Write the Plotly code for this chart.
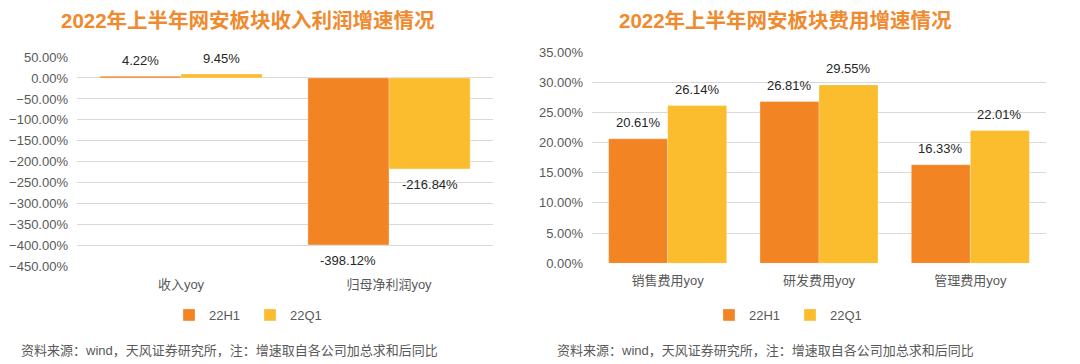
import plotly.graph_objects as go

# ---------------- data ----------------
series_names = ["22H1", "22Q1"]

income_cats = ["收入yoy", "归母净利润yoy"]
income_h1 = [4.22, -398.12]
income_q1 = [9.45, -216.84]

expense_cats = ["销售费用yoy", "研发费用yoy", "管理费用yoy"]
expense_h1 = [20.61, 26.81, 16.33]
expense_q1 = [26.14, 29.55, 22.01]

left_title = "2022年上半年网安板块收入利润增速情况"
right_title = "2022年上半年网安板块费用增速情况"
source_note = "资料来源：wind，天风证券研究所，注：增速取自各公司加总求和后同比"

# ---------------- style ----------------
W, H = 1080, 364
ORANGE = "#F28424"
YELLOW = "#FBBD2E"
TITLE_C = "#F08A2E"
TICK_C = "#595959"
LABEL_C = "#262626"
GRID_C = "#D9D9D9"
FONT = "Liberation Sans, Arial, Noto Sans CJK SC, sans-serif"
BARGAP = 0.22

left_dom_x = [77 / W, 493 / W]
right_dom_x = [592 / W, 1046 / W]
left_dom_y = [1 - 266.7 / H, 1 - 57 / H]
right_dom_y = [1 - 263.3 / H, 1 - 52 / H]

fig = go.Figure()

colors = [ORANGE, YELLOW]
bar_line = dict(color="rgba(255,255,255,0.6)", width=0.5)
for name, vals, col in zip(series_names, [income_h1, income_q1], colors):
    fig.add_trace(go.Bar(x=income_cats, y=vals, name=name, marker=dict(color=col, line=bar_line),
                         xaxis="x", yaxis="y", legend="legend", hoverinfo="skip"))
for name, vals, col in zip(series_names, [expense_h1, expense_q1], colors):
    fig.add_trace(go.Bar(x=expense_cats, y=vals, name=name, marker=dict(color=col, line=bar_line),
                         xaxis="x2", yaxis="y2", legend="legend2", hoverinfo="skip"))

# data labels
annotations = []

def add_labels(cats, series, xref, yref, dom_x):
    axis_px = (dom_x[1] - dom_x[0]) * W
    bar_px = axis_px / len(cats) * (1 - BARGAP) / 2
    for si, vals in enumerate(series):
        shift = -bar_px / 2 if si == 0 else bar_px / 2
        for c, v in zip(cats, vals):
            annotations.append(dict(
                x=c, y=v, xref=xref, yref=yref, text=f"{v:.2f}%", showarrow=False,
                xshift=shift, yshift=16 if v >= 0 else -16, yanchor="middle",
                font=dict(size=13, color=LABEL_C, family=FONT)))

add_labels(income_cats, [income_h1, income_q1], "x", "y", left_dom_x)
add_labels(expense_cats, [expense_h1, expense_q1], "x2", "y2", right_dom_x)

# titles
for txt, xc in [(left_title, 248 / W), (right_title, 785 / W)]:
    annotations.append(dict(text=txt, x=xc, y=1 - 20 / H, xref="paper", yref="paper",
                            xanchor="center", yanchor="middle", showarrow=False,
                            font=dict(size=20.5, color=TITLE_C, family=FONT, weight="bold")))
# source notes
for xl in [19 / W, 555 / W]:
    annotations.append(dict(text=source_note, x=xl, y=1 - 350 / H, xref="paper", yref="paper",
                            xanchor="left", yanchor="middle", showarrow=False,
                            font=dict(size=13, color=TICK_C, family=FONT)))

yaxis_common = dict(showgrid=True, gridcolor=GRID_C, gridwidth=1, zeroline=False, showline=False,
                    ticks="", tickformat=".2f", ticksuffix="%", ticklabelstandoff=8, automargin=False,
                    tickfont=dict(size=13, color=TICK_C, family=FONT), fixedrange=True)
xaxis_common = dict(showgrid=False, zeroline=False, showline=False, ticks="", ticklabelstandoff=8,
                    automargin=False,
                    tickfont=dict(size=13, color=TICK_C, family=FONT), fixedrange=True)

legend_common = dict(orientation="h", xanchor="center", yanchor="middle", y=1 - 315 / H,
                     font=dict(size=13, color=TICK_C, family=FONT), itemwidth=30, entrywidth=36,
                     bgcolor="rgba(0,0,0,0)", traceorder="normal")

fig.update_layout(
    width=W, height=H, margin=dict(l=0, r=0, t=0, b=0, autoexpand=False),
    paper_bgcolor="white", plot_bgcolor="white",
    barmode="group", bargap=BARGAP, bargroupgap=0,
    font=dict(family=FONT),
    xaxis=dict(domain=left_dom_x, anchor="y", **xaxis_common),
    yaxis=dict(domain=left_dom_y, anchor="x", range=[-450, 50], dtick=50, tick0=0, **yaxis_common),
    xaxis2=dict(domain=right_dom_x, anchor="y2", **xaxis_common),
    yaxis2=dict(domain=right_dom_y, anchor="x2", range=[0, 35], dtick=5, tick0=0, **yaxis_common),
    legend=dict(x=250 / W, **legend_common),
    legend2=dict(x=790 / W, **legend_common),
    annotations=annotations,
    showlegend=True,
)

fig.write_html("out.html", config={"displayModeBar": False},
               post_script="document.body.style.margin='0';document.body.style.overflow='hidden';")
